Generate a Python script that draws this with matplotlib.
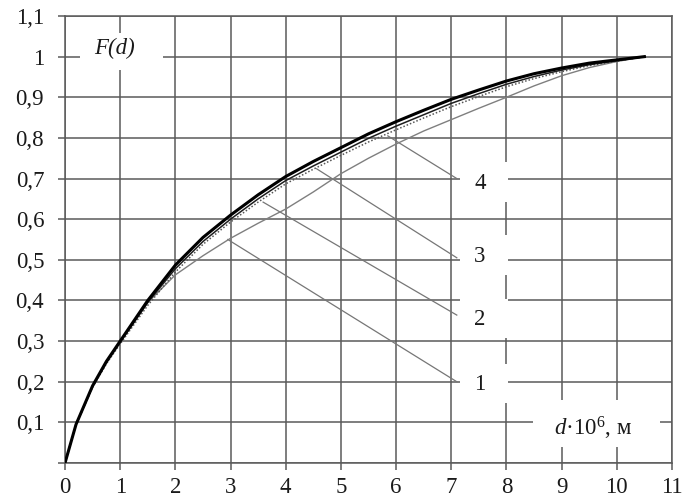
import matplotlib
matplotlib.use("Agg")
import matplotlib.pyplot as plt
from matplotlib.patches import Rectangle

# ---- data ----
d_vals = [0, 0.2, 0.5, 0.75, 1, 1.5, 2, 2.5, 3, 3.5, 4, 4.5, 5, 5.5, 6, 6.5, 7, 7.5, 8, 8.5, 9, 9.5, 10, 10.5]
F_curve1 = [0, 0.095, 0.188, 0.246, 0.298, 0.395, 0.463, 0.51, 0.553, 0.59, 0.625, 0.667, 0.712, 0.75, 0.785, 0.817, 0.845, 0.873, 0.90, 0.928, 0.953, 0.973, 0.988, 1.0]
F_curve2 = [0, 0.094, 0.186, 0.244, 0.293, 0.388, 0.47, 0.538, 0.593, 0.642, 0.687, 0.723, 0.757, 0.79, 0.82, 0.849, 0.877, 0.902, 0.926, 0.946, 0.963, 0.978, 0.989, 1.0]
F_curve3 = [0, 0.095, 0.188, 0.247, 0.297, 0.395, 0.478, 0.545, 0.60, 0.65, 0.695, 0.731, 0.765, 0.799, 0.829, 0.857, 0.885, 0.909, 0.932, 0.951, 0.967, 0.98, 0.99, 1.0]
F_curve4 = [0, 0.095, 0.19, 0.25, 0.30, 0.40, 0.487, 0.555, 0.61, 0.66, 0.705, 0.742, 0.776, 0.81, 0.84, 0.868, 0.895, 0.918, 0.94, 0.958, 0.972, 0.984, 0.992, 1.0]

curve_labels = ["1", "2", "3", "4"]
leader_start_x = [2.95, 3.59, 4.56, 5.85]
leader_start_y = [0.55, 0.642, 0.724, 0.805]
leader_end_x = [7.1, 7.1, 7.1, 7.1]
leader_end_y = [0.20, 0.364, 0.505, 0.70]
label_x = [7.52, 7.52, 7.52, 7.52]
label_y = [0.192, 0.352, 0.508, 0.688]

x_ticks = list(range(0, 12))
x_tick_labels = [str(v) for v in x_ticks]
y_ticks = [i / 10 for i in range(0, 12)]
y_tick_labels = [""] + ["1" if abs(v - 1) < 1e-9 else f"{v:.1f}".replace(".", ",") for v in y_ticks[1:]]

y_axis_title = "F(d)"
x_axis_title = r"$d$·10$^6$, м"

# ---- styling ----
plt.rcParams["font.family"] = ["Liberation Serif", "DejaVu Serif"]
plt.rcParams["mathtext.fontset"] = "custom"
plt.rcParams["mathtext.rm"] = "Liberation Serif"
plt.rcParams["mathtext.it"] = "Liberation Serif:italic"

grid_color = "#5a5a5a"
text_color = "#1a1a1a"
fs = 16.5
fig = plt.figure(figsize=(6.84, 5.01), dpi=100)
ax = fig.add_axes([65 / 684, 38 / 501, 607 / 684, 447 / 501])
ax.set_xlim(0, 11)
ax.set_ylim(0, 1.1)
ax.set_axisbelow(True)
ax.grid(True, color=grid_color, linewidth=1.1)
for s in ax.spines.values():
    s.set_color(grid_color)
    s.set_linewidth(1.1)
ax.set_xticks(x_ticks)
ax.set_xticklabels(x_tick_labels)
ax.set_yticks(y_ticks)
ax.set_yticklabels(y_tick_labels)
ax.tick_params(axis="both", direction="out", length=5, width=1.1, color=grid_color,
               labelsize=fs, labelcolor=text_color)
ax.tick_params(axis="x", pad=5)
ax.tick_params(axis="y", pad=10)

# white masks behind text labels (gaps in the grid)
def mask(x0, x1, y0, y1):
    ax.add_patch(Rectangle((x0, y0), x1 - x0, y1 - y0, facecolor="white",
                           edgecolor="none", zorder=1))

mask(0.27, 1.78, 0.967, 1.058)
mask(8.48, 10.78, 0.04, 0.155)
for ly in label_y:
    mask(7.15, 8.03, ly - 0.045, ly + 0.052)

# curves
ax.plot(d_vals, F_curve1, color="#7f7f7f", linewidth=1.0, zorder=3)
ax.plot(d_vals, F_curve2, color="#555555", linewidth=1.1, linestyle=(0, (1, 1.3)), zorder=3)
ax.plot(d_vals, F_curve3, color="#1e1e1e", linewidth=1.1, zorder=4)
ax.plot(d_vals, F_curve4, color="black", linewidth=2.2, zorder=5)

# leader lines and curve numbers
for xs, ys, xe, ye, lx, ly, lab in zip(leader_start_x, leader_start_y, leader_end_x,
                                       leader_end_y, label_x, label_y, curve_labels):
    ax.plot([xs, xe], [ys, ye], color="#767676", linewidth=0.9, zorder=2)
    ax.text(lx, ly, lab, ha="center", va="center", fontsize=fs, color=text_color, zorder=6)

ax.text(0.89, 1.02, y_axis_title, ha="center", va="center", fontsize=fs,
        fontstyle="italic", color=text_color, zorder=6)
ax.text(9.56, 0.086, x_axis_title, ha="center", va="center", fontsize=fs,
        color=text_color, zorder=6)

fig.savefig("out.png", dpi=100)
